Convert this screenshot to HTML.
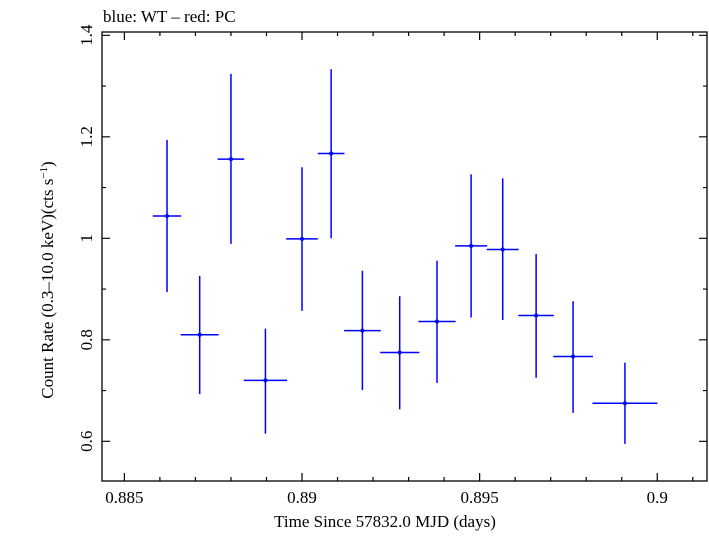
<!DOCTYPE html>
<html><head><meta charset="utf-8"><style>
body{margin:0;background:#fff;}
svg text{font-family:"Liberation Serif","DejaVu Serif",serif;fill:#000;}
</style></head><body>
<svg width="709" height="532" viewBox="0 0 709 532" xmlns="http://www.w3.org/2000/svg">
<text x="103" y="22" font-size="17">blue: WT – red: PC</text>
<g id="axes"></g>
<g id="marks"></g>
<text x="385" y="527" font-size="17" text-anchor="middle">Time Since 57832.0 MJD (days)</text>
<text transform="translate(53,280) rotate(-90)" font-size="17" text-anchor="middle">Count Rate (0.3–10.0 keV)(cts s<tspan dy="-6" font-size="11">−1</tspan><tspan dy="6">)</tspan></text>
</svg>
<script>
const times=[0.88620,0.88712,0.88800,0.88897,0.89000,0.89082,0.89170,0.89275,0.89380,0.89476,0.89565,0.89659,0.89763,0.89909];
const timeErr=[0.00040,0.000535,0.000375,0.00061,0.000445,0.000375,0.000515,0.00055,0.000525,0.00045,0.00045,0.0005,0.00056,0.000915];
const rates=[1.044,0.810,1.156,0.720,0.999,1.167,0.818,0.775,0.836,0.985,0.978,0.848,0.767,0.675];
const rateHi=[1.194,0.926,1.324,0.822,1.140,1.333,0.936,0.886,0.956,1.126,1.118,0.969,0.876,0.755];
const rateLo=[0.894,0.693,0.989,0.615,0.857,1.000,0.701,0.663,0.715,0.844,0.839,0.725,0.656,0.595];
const xTicks=[0.885,0.89,0.895,0.9];
const xTickLabels=["0.885","0.89","0.895","0.9"];
const yTicks=[0.6,0.8,1.0,1.2,1.4];
const yTickLabels=["0.6","0.8","1","1.2","1.4"];

const L=102,R=707,T=32,B=481;
const xMin=0.88437,xMax=0.90140,yMin=0.5218,yMax=1.4065;
const sx=v=>L+(v-xMin)/(xMax-xMin)*(R-L);
const sy=v=>B-(v-yMin)/(yMax-yMin)*(B-T);
const NS="http://www.w3.org/2000/svg";
function mk(tag,attrs,parent){const e=document.createElementNS(NS,tag);for(const k in attrs)e.setAttribute(k,attrs[k]);parent.appendChild(e);return e;}
const axes=document.getElementById('axes'),marks=document.getElementById('marks');
const frame=mk('rect',{x:L,y:T,width:R-L,height:B-T,fill:'none',stroke:'#000','stroke-width':1.3},axes);


for(let i=0;i<=17;i++){
  const v=0.885+i*0.001; if(v>xMax) break;
  const major=i%5===0, len=major?8:4, x=sx(v);
  const t=mk('path',{d:`M${x},${B}v${-len}M${x},${T}v${len}`,stroke:'#000','stroke-width':1.2},axes);
  
  
}
xTicks.forEach((v,i)=>{
  const t=mk('text',{x:sx(v),y:B+22,'font-size':17,'text-anchor':'middle'},axes);
  t.textContent=xTickLabels[i];
  
  
});
for(let i=0;i<=9;i++){
  const v=0.6+i*0.1; if(v>yMax) break;
  const major=i%2===0, len=major?8:4, y=sy(v);
  const t=mk('path',{d:`M${L},${y}h${len}M${R},${y}h${-len}`,stroke:'#000','stroke-width':1.2},axes);
  
  
}
yTicks.forEach((v,i)=>{
  const t=mk('text',{transform:`translate(92,${sy(v)}) rotate(-90)`,'font-size':17,'text-anchor':'middle'},axes);
  t.textContent=yTickLabels[i];
  
  
});
times.forEach((t,i)=>{
  const g=mk('g',{stroke:'#0000ff','stroke-width':1.5},marks);
  
  
  mk('line',{x1:sx(t-timeErr[i]),x2:sx(t+timeErr[i]),y1:sy(rates[i]),y2:sy(rates[i])},g);
  mk('line',{x1:sx(t),x2:sx(t),y1:sy(rateHi[i]),y2:sy(rateLo[i])},g);
  mk('circle',{cx:sx(t),cy:sy(rates[i]),r:2,fill:'#0000ff',stroke:'none'},g);
});
</script>
</body></html>
